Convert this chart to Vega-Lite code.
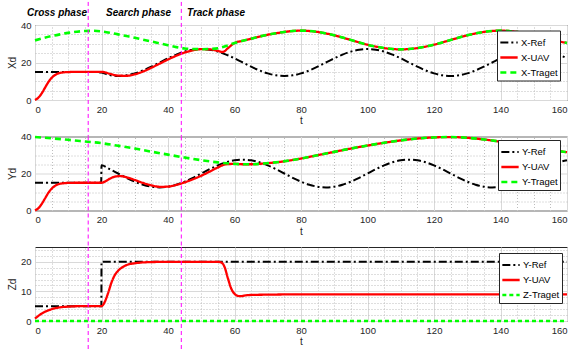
{
"$schema": "https://vega.github.io/schema/vega-lite/v6.json",
"autosize": {"type": "pad"},
"padding": {"left": 6, "top": 0, "right": 0, "bottom": 0},
"background": "white",
"bounds": "flush",
"spacing": 36.5,
"config": {
  "view": {"stroke": "#262626", "strokeWidth": 1},
  "font": "Liberation Sans",
  "axis": {"labelFont": "Liberation Sans", "labelFontSize": 9.5, "labelColor": "#262626", "titleFont": "Liberation Sans", "titleFontSize": 10, "titleFontWeight": "normal", "titleColor": "#262626", "domain": false, "ticks": false, "gridColor": "#d9d9d9", "gridWidth": 1, "labelPadding": 4},
  "legend": {"symbolType": "stroke", "labelFont": "Liberation Sans", "labelFontSize": 9.5, "labelColor": "#000000", "fillColor": "white", "strokeColor": "#262626", "padding": 2, "symbolSize": 300, "rowPadding": -2, "labelOffset": 2, "titlePadding": 0}
},
"datasets": {
  "xd": [
    {"t":0,"s":"X-Ref","v":15},{"t":5,"s":"X-Ref","v":15},{"t":10,"s":"X-Ref","v":15},{"t":15,"s":"X-Ref","v":15},{"t":17.5,"s":"X-Ref","v":15},{"t":20,"s":"X-Ref","v":14.6},{"t":22.5,"s":"X-Ref","v":13.3},{"t":25,"s":"X-Ref","v":12.8},{"t":27.5,"s":"X-Ref","v":13.15},{"t":30,"s":"X-Ref","v":14.18},{"t":32.5,"s":"X-Ref","v":15.77},{"t":35,"s":"X-Ref","v":17.78},{"t":37.5,"s":"X-Ref","v":20},{"t":40,"s":"X-Ref","v":22.22},{"t":42.5,"s":"X-Ref","v":24.23},{"t":45,"s":"X-Ref","v":25.82},{"t":47.5,"s":"X-Ref","v":26.85},{"t":50,"s":"X-Ref","v":27.2},{"t":52.5,"s":"X-Ref","v":26.85},{"t":55,"s":"X-Ref","v":25.82},{"t":57.5,"s":"X-Ref","v":24.23},{"t":60,"s":"X-Ref","v":22.22},{"t":62.5,"s":"X-Ref","v":20},{"t":65,"s":"X-Ref","v":17.78},{"t":67.5,"s":"X-Ref","v":15.77},{"t":70,"s":"X-Ref","v":14.18},{"t":72.5,"s":"X-Ref","v":13.15},{"t":75,"s":"X-Ref","v":12.8},{"t":77.5,"s":"X-Ref","v":13.15},{"t":80,"s":"X-Ref","v":14.18},{"t":82.5,"s":"X-Ref","v":15.77},{"t":85,"s":"X-Ref","v":17.78},{"t":87.5,"s":"X-Ref","v":20},{"t":90,"s":"X-Ref","v":22.22},{"t":92.5,"s":"X-Ref","v":24.23},{"t":95,"s":"X-Ref","v":25.82},{"t":97.5,"s":"X-Ref","v":26.85},{"t":100,"s":"X-Ref","v":27.2},{"t":102.5,"s":"X-Ref","v":26.85},{"t":105,"s":"X-Ref","v":25.82},{"t":107.5,"s":"X-Ref","v":24.23},{"t":110,"s":"X-Ref","v":22.22},{"t":112.5,"s":"X-Ref","v":20},{"t":115,"s":"X-Ref","v":17.78},{"t":117.5,"s":"X-Ref","v":15.77},{"t":120,"s":"X-Ref","v":14.18},{"t":122.5,"s":"X-Ref","v":13.15},{"t":125,"s":"X-Ref","v":12.8},{"t":127.5,"s":"X-Ref","v":13.15},{"t":130,"s":"X-Ref","v":14.18},{"t":132.5,"s":"X-Ref","v":15.77},{"t":135,"s":"X-Ref","v":17.78},{"t":137.5,"s":"X-Ref","v":20},{"t":140,"s":"X-Ref","v":22.22},{"t":142.5,"s":"X-Ref","v":24.23},{"t":145,"s":"X-Ref","v":25.82},{"t":147.5,"s":"X-Ref","v":26.85},{"t":150,"s":"X-Ref","v":27.2},{"t":152.5,"s":"X-Ref","v":26.85},{"t":155,"s":"X-Ref","v":25.82},{"t":157.5,"s":"X-Ref","v":24.23},{"t":160,"s":"X-Ref","v":22.22},
    {"t":0,"s":"X-UAV","v":0},{"t":1,"s":"X-UAV","v":1.2},{"t":2,"s":"X-UAV","v":3.5},{"t":3,"s":"X-UAV","v":6.5},{"t":4,"s":"X-UAV","v":9.5},{"t":5,"s":"X-UAV","v":11.8},{"t":6,"s":"X-UAV","v":13.3},{"t":7,"s":"X-UAV","v":14.2},{"t":8,"s":"X-UAV","v":14.6},{"t":10,"s":"X-UAV","v":14.9},{"t":12.5,"s":"X-UAV","v":15},{"t":15,"s":"X-UAV","v":15},{"t":17.5,"s":"X-UAV","v":15},{"t":20,"s":"X-UAV","v":15},{"t":22.5,"s":"X-UAV","v":14},{"t":25,"s":"X-UAV","v":13},{"t":27.5,"s":"X-UAV","v":12.9},{"t":30,"s":"X-UAV","v":13.7},{"t":32.5,"s":"X-UAV","v":15.2},{"t":35,"s":"X-UAV","v":17.2},{"t":37.5,"s":"X-UAV","v":19.4},{"t":40,"s":"X-UAV","v":21.6},{"t":42.5,"s":"X-UAV","v":23.6},{"t":45,"s":"X-UAV","v":25.3},{"t":47.5,"s":"X-UAV","v":26.5},{"t":50,"s":"X-UAV","v":27.1},{"t":52.5,"s":"X-UAV","v":27},{"t":55,"s":"X-UAV","v":26.2},{"t":56.5,"s":"X-UAV","v":25.6},{"t":58,"s":"X-UAV","v":27.6},{"t":60,"s":"X-UAV","v":30.4},{"t":62.5,"s":"X-UAV","v":31.6},{"t":65,"s":"X-UAV","v":32.7},{"t":67.5,"s":"X-UAV","v":33.8},{"t":70,"s":"X-UAV","v":34.8},{"t":72.5,"s":"X-UAV","v":35.6},{"t":75,"s":"X-UAV","v":36.3},{"t":77.5,"s":"X-UAV","v":36.8},{"t":80,"s":"X-UAV","v":37},{"t":82.5,"s":"X-UAV","v":36.8},{"t":85,"s":"X-UAV","v":36.3},{"t":87.5,"s":"X-UAV","v":35.5},{"t":90,"s":"X-UAV","v":34.5},{"t":92.5,"s":"X-UAV","v":33.3},{"t":95,"s":"X-UAV","v":32},{"t":97.5,"s":"X-UAV","v":30.7},{"t":100,"s":"X-UAV","v":29.5},{"t":102.5,"s":"X-UAV","v":28.5},{"t":105,"s":"X-UAV","v":27.7},{"t":107.5,"s":"X-UAV","v":27.2},{"t":110,"s":"X-UAV","v":27},{"t":112.5,"s":"X-UAV","v":27.2},{"t":115,"s":"X-UAV","v":27.7},{"t":117.5,"s":"X-UAV","v":28.5},{"t":120,"s":"X-UAV","v":29.5},{"t":122.5,"s":"X-UAV","v":30.7},{"t":125,"s":"X-UAV","v":32},{"t":127.5,"s":"X-UAV","v":33.3},{"t":130,"s":"X-UAV","v":34.5},{"t":132.5,"s":"X-UAV","v":35.5},{"t":135,"s":"X-UAV","v":36.3},{"t":137.5,"s":"X-UAV","v":36.8},{"t":140,"s":"X-UAV","v":37},{"t":142.5,"s":"X-UAV","v":36.8},{"t":145,"s":"X-UAV","v":36.3},{"t":147.5,"s":"X-UAV","v":35.5},{"t":150,"s":"X-UAV","v":34.5},{"t":152.5,"s":"X-UAV","v":33.4},{"t":155,"s":"X-UAV","v":32.3},{"t":157.5,"s":"X-UAV","v":31.3},{"t":160,"s":"X-UAV","v":30.4},
    {"t":0,"s":"X-Traget","v":31.8},{"t":2.5,"s":"X-Traget","v":33},{"t":5,"s":"X-Traget","v":34.1},{"t":7.5,"s":"X-Traget","v":35},{"t":10,"s":"X-Traget","v":35.8},{"t":12.5,"s":"X-Traget","v":36.4},{"t":15,"s":"X-Traget","v":36.8},{"t":17.5,"s":"X-Traget","v":36.9},{"t":20,"s":"X-Traget","v":36.6},{"t":22.5,"s":"X-Traget","v":35.9},{"t":25,"s":"X-Traget","v":35},{"t":27.5,"s":"X-Traget","v":34.1},{"t":30,"s":"X-Traget","v":33.2},{"t":32.5,"s":"X-Traget","v":32.2},{"t":35,"s":"X-Traget","v":31.2},{"t":37.5,"s":"X-Traget","v":30.2},{"t":40,"s":"X-Traget","v":29.2},{"t":42.5,"s":"X-Traget","v":28.2},{"t":45,"s":"X-Traget","v":27.5},{"t":47.5,"s":"X-Traget","v":27.2},{"t":50,"s":"X-Traget","v":27.1},{"t":52.5,"s":"X-Traget","v":27.2},{"t":55,"s":"X-Traget","v":27.6},{"t":57.5,"s":"X-Traget","v":28.8},{"t":60,"s":"X-Traget","v":30.4},{"t":62.5,"s":"X-Traget","v":31.6},{"t":65,"s":"X-Traget","v":32.7},{"t":67.5,"s":"X-Traget","v":33.8},{"t":70,"s":"X-Traget","v":34.8},{"t":72.5,"s":"X-Traget","v":35.6},{"t":75,"s":"X-Traget","v":36.3},{"t":77.5,"s":"X-Traget","v":36.8},{"t":80,"s":"X-Traget","v":37},{"t":82.5,"s":"X-Traget","v":36.8},{"t":85,"s":"X-Traget","v":36.3},{"t":87.5,"s":"X-Traget","v":35.5},{"t":90,"s":"X-Traget","v":34.5},{"t":92.5,"s":"X-Traget","v":33.3},{"t":95,"s":"X-Traget","v":32},{"t":97.5,"s":"X-Traget","v":30.7},{"t":100,"s":"X-Traget","v":29.5},{"t":102.5,"s":"X-Traget","v":28.5},{"t":105,"s":"X-Traget","v":27.7},{"t":107.5,"s":"X-Traget","v":27.2},{"t":110,"s":"X-Traget","v":27},{"t":112.5,"s":"X-Traget","v":27.2},{"t":115,"s":"X-Traget","v":27.7},{"t":117.5,"s":"X-Traget","v":28.5},{"t":120,"s":"X-Traget","v":29.5},{"t":122.5,"s":"X-Traget","v":30.7},{"t":125,"s":"X-Traget","v":32},{"t":127.5,"s":"X-Traget","v":33.3},{"t":130,"s":"X-Traget","v":34.5},{"t":132.5,"s":"X-Traget","v":35.5},{"t":135,"s":"X-Traget","v":36.3},{"t":137.5,"s":"X-Traget","v":36.8},{"t":140,"s":"X-Traget","v":37},{"t":142.5,"s":"X-Traget","v":36.8},{"t":145,"s":"X-Traget","v":36.3},{"t":147.5,"s":"X-Traget","v":35.5},{"t":150,"s":"X-Traget","v":34.5},{"t":152.5,"s":"X-Traget","v":33.4},{"t":155,"s":"X-Traget","v":32.3},{"t":157.5,"s":"X-Traget","v":31.3},{"t":160,"s":"X-Traget","v":30.4}
  ],
  "yd": [
    {"t":0,"s":"Y-Ref","v":15},{"t":5,"s":"Y-Ref","v":15},{"t":10,"s":"Y-Ref","v":15},{"t":15,"s":"Y-Ref","v":15},{"t":19.9,"s":"Y-Ref","v":15},{"t":20,"s":"Y-Ref","v":24.41},{"t":22.5,"s":"Y-Ref","v":22.32},{"t":25,"s":"Y-Ref","v":20},{"t":27.5,"s":"Y-Ref","v":17.68},{"t":30,"s":"Y-Ref","v":15.59},{"t":32.5,"s":"Y-Ref","v":13.93},{"t":35,"s":"Y-Ref","v":12.87},{"t":37.5,"s":"Y-Ref","v":12.5},{"t":40,"s":"Y-Ref","v":12.87},{"t":42.5,"s":"Y-Ref","v":13.93},{"t":45,"s":"Y-Ref","v":15.59},{"t":47.5,"s":"Y-Ref","v":17.68},{"t":50,"s":"Y-Ref","v":20},{"t":52.5,"s":"Y-Ref","v":22.32},{"t":55,"s":"Y-Ref","v":24.41},{"t":57.5,"s":"Y-Ref","v":26.07},{"t":60,"s":"Y-Ref","v":27.13},{"t":62.5,"s":"Y-Ref","v":27.5},{"t":65,"s":"Y-Ref","v":27.13},{"t":67.5,"s":"Y-Ref","v":26.07},{"t":70,"s":"Y-Ref","v":24.41},{"t":72.5,"s":"Y-Ref","v":22.32},{"t":75,"s":"Y-Ref","v":20},{"t":77.5,"s":"Y-Ref","v":17.68},{"t":80,"s":"Y-Ref","v":15.59},{"t":82.5,"s":"Y-Ref","v":13.93},{"t":85,"s":"Y-Ref","v":12.87},{"t":87.5,"s":"Y-Ref","v":12.5},{"t":90,"s":"Y-Ref","v":12.87},{"t":92.5,"s":"Y-Ref","v":13.93},{"t":95,"s":"Y-Ref","v":15.59},{"t":97.5,"s":"Y-Ref","v":17.68},{"t":100,"s":"Y-Ref","v":20},{"t":102.5,"s":"Y-Ref","v":22.32},{"t":105,"s":"Y-Ref","v":24.41},{"t":107.5,"s":"Y-Ref","v":26.07},{"t":110,"s":"Y-Ref","v":27.13},{"t":112.5,"s":"Y-Ref","v":27.5},{"t":115,"s":"Y-Ref","v":27.13},{"t":117.5,"s":"Y-Ref","v":26.07},{"t":120,"s":"Y-Ref","v":24.41},{"t":122.5,"s":"Y-Ref","v":22.32},{"t":125,"s":"Y-Ref","v":20},{"t":127.5,"s":"Y-Ref","v":17.68},{"t":130,"s":"Y-Ref","v":15.59},{"t":132.5,"s":"Y-Ref","v":13.93},{"t":135,"s":"Y-Ref","v":12.87},{"t":137.5,"s":"Y-Ref","v":12.5},{"t":140,"s":"Y-Ref","v":12.87},{"t":142.5,"s":"Y-Ref","v":13.93},{"t":145,"s":"Y-Ref","v":15.59},{"t":147.5,"s":"Y-Ref","v":17.68},{"t":150,"s":"Y-Ref","v":20},{"t":152.5,"s":"Y-Ref","v":22.32},{"t":155,"s":"Y-Ref","v":24.41},{"t":157.5,"s":"Y-Ref","v":26.07},{"t":160,"s":"Y-Ref","v":27.13},
    {"t":0,"s":"Y-UAV","v":0},{"t":1,"s":"Y-UAV","v":1.2},{"t":2,"s":"Y-UAV","v":3.5},{"t":3,"s":"Y-UAV","v":6.5},{"t":4,"s":"Y-UAV","v":9.5},{"t":5,"s":"Y-UAV","v":11.8},{"t":6,"s":"Y-UAV","v":13.3},{"t":7,"s":"Y-UAV","v":14.2},{"t":8,"s":"Y-UAV","v":14.6},{"t":10,"s":"Y-UAV","v":14.9},{"t":12.5,"s":"Y-UAV","v":15},{"t":15,"s":"Y-UAV","v":15},{"t":17.5,"s":"Y-UAV","v":15},{"t":20,"s":"Y-UAV","v":15},{"t":21,"s":"Y-UAV","v":15.6},{"t":22.5,"s":"Y-UAV","v":17.2},{"t":24,"s":"Y-UAV","v":18.3},{"t":25.5,"s":"Y-UAV","v":18.6},{"t":27.5,"s":"Y-UAV","v":18},{"t":30,"s":"Y-UAV","v":16.5},{"t":32.5,"s":"Y-UAV","v":14.9},{"t":35,"s":"Y-UAV","v":13.6},{"t":37.5,"s":"Y-UAV","v":12.8},{"t":40,"s":"Y-UAV","v":12.9},{"t":42.5,"s":"Y-UAV","v":13.8},{"t":45,"s":"Y-UAV","v":15.2},{"t":47.5,"s":"Y-UAV","v":16.9},{"t":50,"s":"Y-UAV","v":18.8},{"t":52.5,"s":"Y-UAV","v":21},{"t":55,"s":"Y-UAV","v":23.3},{"t":57.5,"s":"Y-UAV","v":25},{"t":60,"s":"Y-UAV","v":25.2},{"t":62.5,"s":"Y-UAV","v":25},{"t":65,"s":"Y-UAV","v":25},{"t":67.5,"s":"Y-UAV","v":25.2},{"t":70,"s":"Y-UAV","v":25.6},{"t":75,"s":"Y-UAV","v":26.6},{"t":80,"s":"Y-UAV","v":28.1},{"t":85,"s":"Y-UAV","v":29.9},{"t":90,"s":"Y-UAV","v":31.7},{"t":95,"s":"Y-UAV","v":33.5},{"t":100,"s":"Y-UAV","v":35.1},{"t":105,"s":"Y-UAV","v":36.6},{"t":110,"s":"Y-UAV","v":37.9},{"t":115,"s":"Y-UAV","v":38.9},{"t":120,"s":"Y-UAV","v":39.5},{"t":125,"s":"Y-UAV","v":39.7},{"t":130,"s":"Y-UAV","v":39.3},{"t":135,"s":"Y-UAV","v":38.4},{"t":140,"s":"Y-UAV","v":37.2},{"t":145,"s":"Y-UAV","v":35.8},{"t":150,"s":"Y-UAV","v":34.3},{"t":155,"s":"Y-UAV","v":32.8},{"t":160,"s":"Y-UAV","v":31.5},
    {"t":0,"s":"Y-Traget","v":39.7},{"t":5,"s":"Y-Traget","v":39},{"t":10,"s":"Y-Traget","v":38.2},{"t":15,"s":"Y-Traget","v":37.3},{"t":20,"s":"Y-Traget","v":36.4},{"t":25,"s":"Y-Traget","v":35},{"t":30,"s":"Y-Traget","v":33.5},{"t":35,"s":"Y-Traget","v":31.8},{"t":40,"s":"Y-Traget","v":30.2},{"t":45,"s":"Y-Traget","v":28.6},{"t":50,"s":"Y-Traget","v":27.2},{"t":55,"s":"Y-Traget","v":26},{"t":60,"s":"Y-Traget","v":25.2},{"t":62.5,"s":"Y-Traget","v":25},{"t":65,"s":"Y-Traget","v":25},{"t":67.5,"s":"Y-Traget","v":25.2},{"t":70,"s":"Y-Traget","v":25.6},{"t":75,"s":"Y-Traget","v":26.6},{"t":80,"s":"Y-Traget","v":28.1},{"t":85,"s":"Y-Traget","v":29.9},{"t":90,"s":"Y-Traget","v":31.7},{"t":95,"s":"Y-Traget","v":33.5},{"t":100,"s":"Y-Traget","v":35.1},{"t":105,"s":"Y-Traget","v":36.6},{"t":110,"s":"Y-Traget","v":37.9},{"t":115,"s":"Y-Traget","v":38.9},{"t":120,"s":"Y-Traget","v":39.5},{"t":125,"s":"Y-Traget","v":39.7},{"t":130,"s":"Y-Traget","v":39.3},{"t":135,"s":"Y-Traget","v":38.4},{"t":140,"s":"Y-Traget","v":37.2},{"t":145,"s":"Y-Traget","v":35.8},{"t":150,"s":"Y-Traget","v":34.3},{"t":155,"s":"Y-Traget","v":32.8},{"t":160,"s":"Y-Traget","v":31.5}
  ],
  "zd": [
    {"t":0,"s":"Y-Ref","v":5},{"t":19.95,"s":"Y-Ref","v":5},{"t":20,"s":"Y-Ref","v":20},{"t":160,"s":"Y-Ref","v":20},
    {"t":0,"s":"Y-UAV","v":0.8},{"t":2,"s":"Y-UAV","v":2.5},{"t":4,"s":"Y-UAV","v":3.6},{"t":6,"s":"Y-UAV","v":4.3},{"t":8,"s":"Y-UAV","v":4.7},{"t":10,"s":"Y-UAV","v":4.85},{"t":13,"s":"Y-UAV","v":5},{"t":20,"s":"Y-UAV","v":5},{"t":21,"s":"Y-UAV","v":6.5},{"t":22,"s":"Y-UAV","v":9.5},{"t":23,"s":"Y-UAV","v":13},{"t":24,"s":"Y-UAV","v":15.5},{"t":25,"s":"Y-UAV","v":17},{"t":26.5,"s":"Y-UAV","v":18.3},{"t":28,"s":"Y-UAV","v":19.1},{"t":30,"s":"Y-UAV","v":19.5},{"t":32.5,"s":"Y-UAV","v":19.8},{"t":35,"s":"Y-UAV","v":19.9},{"t":40,"s":"Y-UAV","v":20},{"t":55,"s":"Y-UAV","v":20},{"t":56,"s":"Y-UAV","v":19.8},{"t":57,"s":"Y-UAV","v":18.3},{"t":58,"s":"Y-UAV","v":14.5},{"t":59,"s":"Y-UAV","v":11},{"t":60,"s":"Y-UAV","v":9.2},{"t":61,"s":"Y-UAV","v":8.5},{"t":62,"s":"Y-UAV","v":8.4},{"t":63,"s":"Y-UAV","v":8.6},{"t":65,"s":"Y-UAV","v":8.8},{"t":70,"s":"Y-UAV","v":8.9},{"t":80,"s":"Y-UAV","v":9},{"t":160,"s":"Y-UAV","v":9},
    {"t":0,"s":"Z-Traget","v":0},{"t":160,"s":"Z-Traget","v":0}
  ]
},
"resolve": {
  "scale": {"color": "independent", "strokeDash": "independent", "strokeWidth": "independent"},
  "legend": {"color": "independent", "strokeDash": "independent", "strokeWidth": "independent"}
},
"vconcat": [
  {
    "width": 532, "height": 75,
    "layer": [
      {
        "data": {"name": "xd"},
        "mark": {"type": "point", "opacity": 0},
        "encoding": {
          "x": {"field": "t", "type": "quantitative", "scale": {"domain": [0, 160], "nice": false}, "axis": {"orient": "top", "values": [5,10,15,25,30,35,45,50,55,65,70,75,85,90,95,105,110,115,125,130,135,145,150,155], "grid": true, "gridDash": [1, 2], "gridColor": "#bdbdbd", "labels": false, "ticks": false, "domain": false, "title": null}},
          "y": {"field": "v", "type": "quantitative", "scale": {"domain": [0, 40], "nice": false}, "axis": {"orient": "right", "values": [5,10,15,25,30,35], "grid": true, "gridDash": [1, 2], "gridColor": "#bdbdbd", "labels": false, "ticks": false, "domain": false, "title": null}}
        }
      },
      {
        "data": {"name": "xd"},
        "mark": {"type": "line", "interpolate": "monotone"},
        "encoding": {
          "x": {"field": "t", "type": "quantitative", "scale": {"domain": [0, 160], "nice": false}, "axis": {"orient": "bottom", "values": [0,20,40,60,80,100,120,140,160], "grid": true, "title": "t", "titlePadding": 2}},
          "y": {"field": "v", "type": "quantitative", "scale": {"domain": [0, 40], "nice": false}, "axis": {"orient": "left", "values": [0,20,40], "grid": true, "title": "Xd", "titlePadding": 3}},
          "color": {"field": "s", "type": "nominal", "scale": {"domain": ["X-Ref","X-UAV","X-Traget"], "range": ["#000000","#ff0000","#00ff00"]}, "legend": {"title": null, "orient": "none", "legendX": 462, "legendY": 5.5}},
          "strokeDash": {"field": "s", "type": "nominal", "scale": {"domain": ["X-Ref","X-UAV","X-Traget"], "range": [[8,3,2,3],[1,0],[6,4]]}, "legend": {"title": null, "orient": "none", "legendX": 462, "legendY": 5.5}},
          "strokeWidth": {"field": "s", "type": "nominal", "scale": {"domain": ["X-Ref","X-UAV","X-Traget"], "range": [2, 2.6, 2]}, "legend": {"title": null, "orient": "none", "legendX": 462, "legendY": 5.5}}
        }
      },
      {
        "data": {"values": [{"t": 16}, {"t": 44}]},
        "mark": {"type": "rule", "color": "#ff00ff", "strokeDash": [4, 3], "strokeWidth": 1},
        "encoding": {
          "x": {"field": "t", "type": "quantitative", "scale": {"domain": [0, 160], "nice": false}, "axis": null},
          "y": {"datum": 52.3, "type": "quantitative", "scale": {"domain": [0, 40], "nice": false}, "axis": null},
          "y2": {"datum": -19.5}
        }
      },
      {
        "data": {"values": [{}]},
        "mark": {"type": "text", "text": "Cross phase", "align": "left", "baseline": "alphabetic", "fontSize": 10, "fontWeight": "bold", "fontStyle": "italic", "font": "Liberation Sans", "color": "#000000"},
        "encoding": {
          "x": {"datum": -2.4, "type": "quantitative", "scale": {"domain": [0, 160], "nice": false}, "axis": null},
          "y": {"datum": 44.7, "type": "quantitative", "scale": {"domain": [0, 40], "nice": false}, "axis": null}
        }
      },
      {
        "data": {"values": [{}]},
        "mark": {"type": "text", "text": "Search phase", "align": "left", "baseline": "alphabetic", "fontSize": 10, "fontWeight": "bold", "fontStyle": "italic", "font": "Liberation Sans", "color": "#000000"},
        "encoding": {
          "x": {"datum": 21.35, "type": "quantitative", "scale": {"domain": [0, 160], "nice": false}, "axis": null},
          "y": {"datum": 44.7, "type": "quantitative", "scale": {"domain": [0, 40], "nice": false}, "axis": null}
        }
      },
      {
        "data": {"values": [{}]},
        "mark": {"type": "text", "text": "Track phase", "align": "left", "baseline": "alphabetic", "fontSize": 10, "fontWeight": "bold", "fontStyle": "italic", "font": "Liberation Sans", "color": "#000000"},
        "encoding": {
          "x": {"datum": 45.7, "type": "quantitative", "scale": {"domain": [0, 160], "nice": false}, "axis": null},
          "y": {"datum": 44.7, "type": "quantitative", "scale": {"domain": [0, 40], "nice": false}, "axis": null}
        }
      }
    ],
    "resolve": {"axis": {"x": "independent", "y": "independent"}}
  },
  {
    "width": 532, "height": 74,
    "layer": [
      {
        "data": {"name": "yd"},
        "mark": {"type": "point", "opacity": 0},
        "encoding": {
          "x": {"field": "t", "type": "quantitative", "scale": {"domain": [0, 160], "nice": false}, "axis": {"orient": "top", "values": [5,10,15,25,30,35,45,50,55,65,70,75,85,90,95,105,110,115,125,130,135,145,150,155], "grid": true, "gridDash": [1, 2], "gridColor": "#bdbdbd", "labels": false, "ticks": false, "domain": false, "title": null}},
          "y": {"field": "v", "type": "quantitative", "scale": {"domain": [0, 40], "nice": false}, "axis": {"orient": "right", "values": [5,10,15,25,30,35], "grid": true, "gridDash": [1, 2], "gridColor": "#bdbdbd", "labels": false, "ticks": false, "domain": false, "title": null}}
        }
      },
      {
        "data": {"name": "yd"},
        "mark": {"type": "line", "interpolate": "monotone"},
        "encoding": {
          "x": {"field": "t", "type": "quantitative", "scale": {"domain": [0, 160], "nice": false}, "axis": {"orient": "bottom", "values": [0,20,40,60,80,100,120,140,160], "grid": true, "title": "t", "titlePadding": 2}},
          "y": {"field": "v", "type": "quantitative", "scale": {"domain": [0, 40], "nice": false}, "axis": {"orient": "left", "values": [0,20,40], "grid": true, "title": "Yd", "titlePadding": 3}},
          "color": {"field": "s", "type": "nominal", "scale": {"domain": ["Y-Ref","Y-UAV","Y-Traget"], "range": ["#000000","#ff0000","#00ff00"]}, "legend": {"title": null, "orient": "none", "legendX": 463, "legendY": 3.5}},
          "strokeDash": {"field": "s", "type": "nominal", "scale": {"domain": ["Y-Ref","Y-UAV","Y-Traget"], "range": [[8,3,2,3],[1,0],[6,4]]}, "legend": {"title": null, "orient": "none", "legendX": 463, "legendY": 3.5}},
          "strokeWidth": {"field": "s", "type": "nominal", "scale": {"domain": ["Y-Ref","Y-UAV","Y-Traget"], "range": [2, 2.6, 2]}, "legend": {"title": null, "orient": "none", "legendX": 463, "legendY": 3.5}}
        }
      },
      {
        "data": {"values": [{"t": 16}, {"t": 44}]},
        "mark": {"type": "rule", "color": "#ff00ff", "strokeDash": [4, 3], "strokeWidth": 1},
        "encoding": {
          "x": {"field": "t", "type": "quantitative", "scale": {"domain": [0, 160], "nice": false}, "axis": null},
          "y": {"datum": 40, "type": "quantitative", "scale": {"domain": [0, 40], "nice": false}, "axis": null},
          "y2": {"datum": -19.8}
        }
      }
    ],
    "resolve": {"axis": {"x": "independent", "y": "independent"}}
  },
  {
    "width": 532, "height": 74,
    "layer": [
      {
        "data": {"name": "zd"},
        "mark": {"type": "point", "opacity": 0},
        "encoding": {
          "x": {"field": "t", "type": "quantitative", "scale": {"domain": [0, 160], "nice": false}, "axis": {"orient": "top", "values": [5,10,15,25,30,35,45,50,55,65,70,75,85,90,95,105,110,115,125,130,135,145,150,155], "grid": true, "gridDash": [1, 2], "gridColor": "#bdbdbd", "labels": false, "ticks": false, "domain": false, "title": null}},
          "y": {"field": "v", "type": "quantitative", "scale": {"domain": [0, 25], "nice": false}, "axis": {"orient": "right", "values": [2,4,6,8,12,14,16,18,22,24], "grid": true, "gridDash": [1, 2], "gridColor": "#bdbdbd", "labels": false, "ticks": false, "domain": false, "title": null}}
        }
      },
      {
        "data": {"name": "zd"},
        "mark": {"type": "line", "interpolate": "monotone"},
        "encoding": {
          "x": {"field": "t", "type": "quantitative", "scale": {"domain": [0, 160], "nice": false}, "axis": {"orient": "bottom", "values": [0,20,40,60,80,100,120,140,160], "grid": true, "title": "t", "titlePadding": 2}},
          "y": {"field": "v", "type": "quantitative", "scale": {"domain": [0, 25], "nice": false}, "axis": {"orient": "left", "values": [0,10,20], "grid": true, "title": "Zd", "titlePadding": 3}},
          "color": {"field": "s", "type": "nominal", "scale": {"domain": ["Y-Ref","Y-UAV","Z-Traget"], "range": ["#000000","#ff0000","#00ff00"]}, "legend": {"title": null, "orient": "none", "legendX": 464, "legendY": 6}},
          "strokeDash": {"field": "s", "type": "nominal", "scale": {"domain": ["Y-Ref","Y-UAV","Z-Traget"], "range": [[8,3,2,3],[1,0],[4,3]]}, "legend": {"title": null, "orient": "none", "legendX": 464, "legendY": 6}},
          "strokeWidth": {"field": "s", "type": "nominal", "scale": {"domain": ["Y-Ref","Y-UAV","Z-Traget"], "range": [2, 2.6, 1.5]}, "legend": {"title": null, "orient": "none", "legendX": 464, "legendY": 6}}
        }
      },
      {
        "data": {"values": [{"t": 16}, {"t": 44}]},
        "mark": {"type": "rule", "color": "#ff00ff", "strokeDash": [4, 3], "strokeWidth": 1},
        "encoding": {
          "x": {"field": "t", "type": "quantitative", "scale": {"domain": [0, 160], "nice": false}, "axis": null},
          "y": {"datum": 25, "type": "quantitative", "scale": {"domain": [0, 25], "nice": false}, "axis": null},
          "y2": {"datum": -10}
        }
      }
    ],
    "resolve": {"axis": {"x": "independent", "y": "independent"}}
  }
]
}
